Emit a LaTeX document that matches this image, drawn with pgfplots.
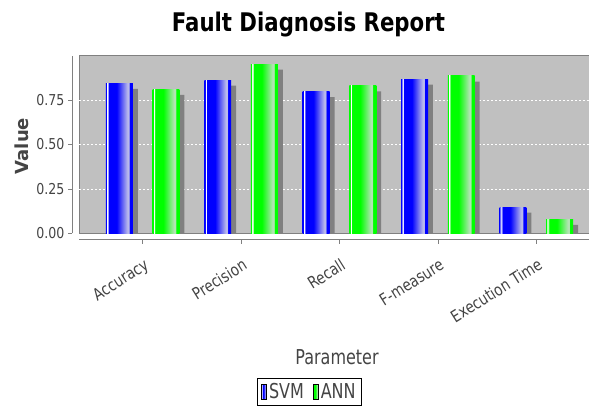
\documentclass[border=0pt]{standalone}
\usepackage{pgfplots}
\usepackage{pgfplotstable}
\pgfplotsset{compat=1.18}
\usepackage{fontspec}
\setmainfont{DejaVu Sans}
\newfontfamily\condfont{DejaVu Sans}[FakeStretch=0.78]
\newfontfamily\tickfont{DejaVu Sans}[FakeStretch=0.84]
\newcommand\sx[1]{\scalebox{0.82}[1]{#1}}
\definecolor{plotbg}{RGB}{192,192,192}
\definecolor{shadowc}{RGB}{128,128,128}
\definecolor{svmlight}{RGB}{185,185,235}
\definecolor{annlight}{RGB}{178,228,178}
\definecolor{axisgray}{RGB}{128,128,128}
\definecolor{labelgray}{RGB}{68,68,68}
\pgfdeclarehorizontalshading{svmshade}{100bp}{color(0bp)=(blue); color(25bp)=(blue); color(26.3bp)=(blue); color(27bp)=(white); color(28.4bp)=(white); color(29.8bp)=(blue); color(45bp)=(blue); color(65bp)=(svmlight); color(67.5bp)=(svmlight); color(69bp)=(blue); color(75bp)=(blue); color(100bp)=(blue)}
\pgfdeclarehorizontalshading{annshade}{100bp}{color(0bp)=(green); color(25bp)=(green); color(26.3bp)=(green); color(27bp)=(white); color(28.4bp)=(white); color(29.8bp)=(green); color(45bp)=(green); color(65bp)=(annlight); color(67.5bp)=(annlight); color(69bp)=(green); color(75bp)=(green); color(100bp)=(green)}
\pgfplotstableread{
x svm ann
0 0.844 0.810
1 0.862 0.952
2 0.797 0.829
3 0.868 0.885
4 0.148 0.079
}\data
\pgfplotsset{
  svmbar/.style={ybar, bar width=0.274, bar shift=0pt, draw=none, shading=svmshade, forget plot},
  annbar/.style={ybar, bar width=0.274, bar shift=0pt, draw=none, shading=annshade, forget plot},
}
\begin{document}
\begin{tikzpicture}
\useasboundingbox (0bp,0bp) rectangle (589bp,407bp);
\begin{axis}[
  at={(79bp,173.5bp)}, anchor=south west,
  scale only axis, width=521bp, height=177.8bp,
  xmin=-0.647, xmax=4.647, ymin=0, ymax=0.999,
  axis background/.style={fill=plotbg, draw=axisgray, line width=0.8bp},
  axis x line*=bottom, axis y line*=left,
  axis x line shift=6bp, axis y line shift=7bp,
  axis line style={draw=axisgray, line width=0.8bp},
  tick align=outside,
  major tick length=4bp,
  tick style={draw=axisgray, line width=0.6bp},
  xtick={0,1,2,3,4},
  xticklabels={\sx{Accuracy}, \sx{Precision}, \sx{Recall}, \sx{F-measure}, \sx{Execution Time}},
  xticklabel style={xshift=10bp, yshift=-23bp, rotate=32, anchor=base east, font=\fontsize{16.5bp}{18bp}\selectfont, text=labelgray},
  ytick={0,0.25,0.5,0.75},
  yticklabel style={font=\tickfont\fontsize{15bp}{18bp}\selectfont, text=labelgray},
  /pgf/number format/.cd, fixed, fixed zerofill, precision=2, assume math mode=true, /pgfplots/.cd,
  extra y ticks={0.25,0.5,0.75},
  extra y tick labels={},
  extra y tick style={grid=major, major tick length=0pt},
  major grid style={draw=white, dash pattern=on 2bp off 2bp, line width=0.7bp},
  legend columns=2,
  legend style={at={(axis description cs:0.341,-0.814)}, anchor=north west,
    draw=black, line width=0.9bp, fill=white, inner xsep=4bp, inner ysep=3bp,
    font=\condfont\fontsize{20.5bp}{22bp}\selectfont, text=labelgray,
    /tikz/every even column/.append style={column sep=7bp}},
  clip=false,
]
% shadows
\addplot[ybar, bar width=0.274, bar shift=0pt, draw=none, fill=shadowc, forget plot]
  table[x expr=\thisrow{x}-0.237+0.05, y expr=\thisrow{svm}-0.031] {\data};
\addplot[ybar, bar width=0.274, bar shift=0pt, draw=none, fill=shadowc, forget plot]
  table[x expr=\thisrow{x}+0.237+0.05, y expr=\thisrow{ann}-0.031] {\data};
% SVM bars
\addplot[svmbar] coordinates {(-0.237,0.844)};
\addplot[svmbar] coordinates {(0.763,0.862)};
\addplot[svmbar] coordinates {(1.763,0.797)};
\addplot[svmbar] coordinates {(2.763,0.868)};
\addplot[svmbar] coordinates {(3.763,0.148)};
% ANN bars
\addplot[annbar] coordinates {(0.237,0.810)};
\addplot[annbar] coordinates {(1.237,0.952)};
\addplot[annbar] coordinates {(2.237,0.829)};
\addplot[annbar] coordinates {(3.237,0.885)};
\addplot[annbar] coordinates {(4.237,0.079)};
% legend entries
\addlegendimage{legend image code/.code={\fill[shading=svmshade] (0bp,-7.5bp) rectangle (5bp,7.5bp);}}
\addlegendentry{SVM}
\addlegendimage{legend image code/.code={\fill[shading=annshade] (0bp,-7.5bp) rectangle (5bp,7.5bp);}}
\addlegendentry{ANN}
\end{axis}
\node[anchor=base west, inner sep=0pt] at (171.7bp,375.3bp) {\resizebox{273bp}{19.5bp}{\bfseries Fault Diagnosis Report}};
\node[anchor=base, inner sep=0pt, text=labelgray] at (337bp,42bp) {\condfont\fontsize{20.5bp}{22bp}\selectfont Parameter};
\node[rotate=90, anchor=center, inner sep=0pt, text=labelgray] at (22bp,261bp) {\bfseries\fontsize{18bp}{20bp}\selectfont Value};
\end{tikzpicture}
\end{document}
